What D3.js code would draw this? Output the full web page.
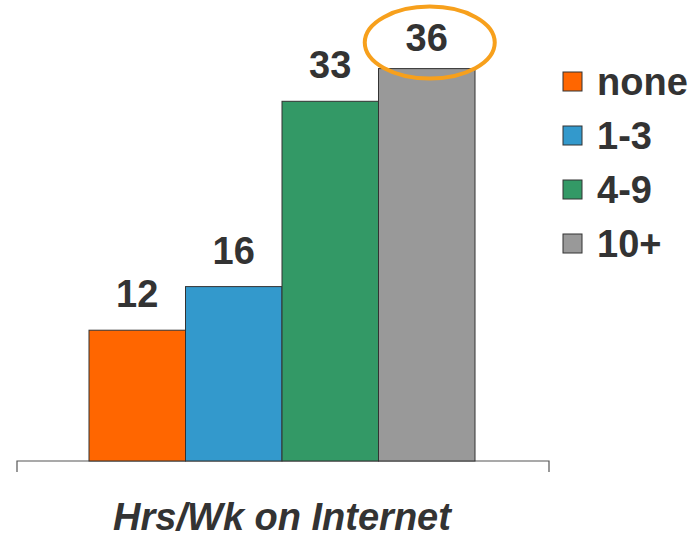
<!DOCTYPE html>
<html>
<head>
<meta charset="utf-8">
<script src="https://cdn.jsdelivr.net/npm/d3@7/dist/d3.min.js"></script>
<style>
  html, body { margin: 0; padding: 0; background: #fff; }
  svg { display: block; font-family: "Liberation Sans", Arial, sans-serif; }
</style>
</head>
<body>
<svg id="chart" width="698" height="534"></svg>
<script>
// Share of respondents by weekly hours spent online
const categories = ["none", "1-3", "4-9", "10+"];
const values = [12, 16, 33, 36];
const colors = ["#ff6600", "#3399cc", "#339966", "#999999"];
const axisTitle = "Hrs/Wk on Internet";
const highlighted = "10+";

const svg = d3.select("#chart");
const textColor = "#333333";
const fontSize = 38;

const baseline = 461;
const y = d3.scaleLinear().domain([0, 40]).range([baseline, baseline - 436]);
const x = d3.scaleBand().domain(categories).range([89, 475]).padding(0);

// Category axis: a bracket-shaped baseline with end ticks
const axisLeft = 17, axisRight = 549;
svg.append("path")
  .attr("d", `M${axisLeft},${baseline + 11}V${baseline}H${axisRight}V${baseline + 11}`)
  .attr("fill", "none")
  .attr("stroke", "#555")
  .attr("stroke-width", 1.2);

// Bars
svg.selectAll("rect.bar")
  .data(categories)
  .join("rect")
  .attr("class", "bar")
  .attr("x", d => x(d))
  .attr("width", x.bandwidth())
  .attr("y", (d, i) => y(values[i]))
  .attr("height", (d, i) => baseline - y(values[i]))
  .attr("fill", (d, i) => colors[i])
  .attr("stroke", "#333")
  .attr("stroke-width", 1);

// Value labels
svg.selectAll("text.val")
  .data(categories)
  .join("text")
  .attr("class", "val")
  .attr("x", d => x(d) + x.bandwidth() / 2)
  .attr("y", (d, i) => y(values[i]) - (d === highlighted ? 18 : 23))
  .attr("text-anchor", "middle")
  .attr("font-size", fontSize)
  .attr("font-weight", "bold")
  .attr("fill", textColor)
  .text((d, i) => values[i]);

// Highlight ring around the top value
const hi = categories.indexOf(highlighted);
svg.append("ellipse")
  .attr("cx", x(highlighted) + x.bandwidth() / 2 + 3)
  .attr("cy", y(values[hi]) - 26)
  .attr("rx", 65)
  .attr("ry", 36)
  .attr("fill", "none")
  .attr("stroke", "#f7a01c")
  .attr("stroke-width", 4);

// Legend
const legend = svg.append("g").attr("transform", "translate(563,0)");
const rowY = d3.scalePoint().domain(categories).range([82, 244]);
legend.selectAll("rect")
  .data(categories)
  .join("rect")
  .attr("x", 0)
  .attr("y", d => rowY(d) - 10)
  .attr("width", 19)
  .attr("height", 19)
  .attr("fill", (d, i) => colors[i])
  .attr("stroke", "#333")
  .attr("stroke-width", 1);
legend.selectAll("text")
  .data(categories)
  .join("text")
  .attr("x", 34)
  .attr("y", d => rowY(d) + 13)
  .attr("font-size", fontSize)
  .attr("font-weight", "bold")
  .attr("fill", textColor)
  .text(d => d);

// Axis title
svg.append("text")
  .attr("x", 282)
  .attr("y", 530)
  .attr("text-anchor", "middle")
  .attr("font-size", fontSize)
  .attr("font-weight", "bold")
  .attr("font-style", "italic")
  .attr("fill", textColor)
  .text(axisTitle);
</script>
</body>
</html>
